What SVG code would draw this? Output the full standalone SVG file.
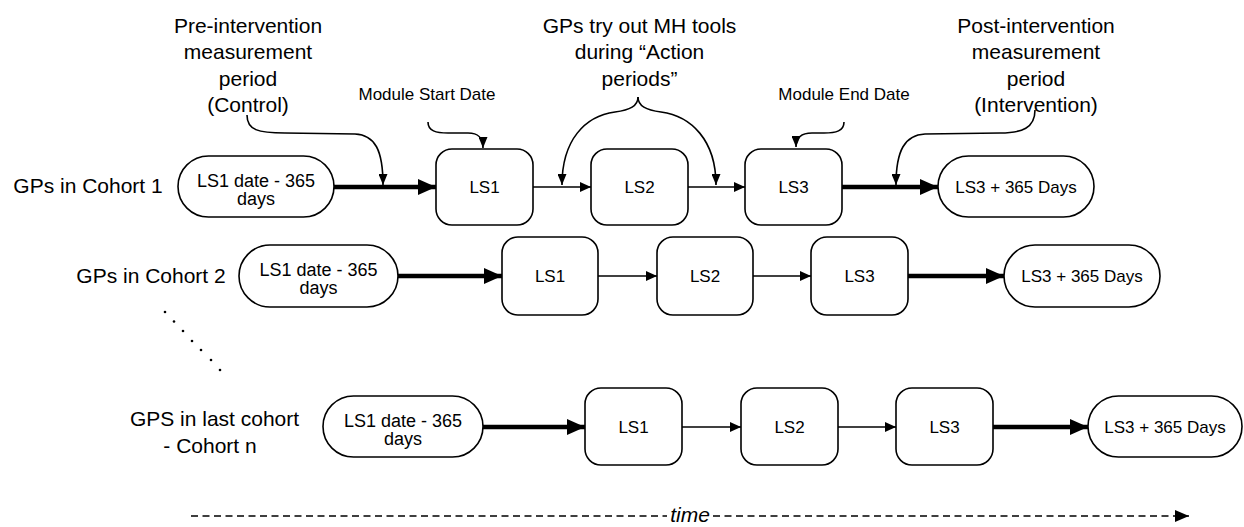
<svg xmlns="http://www.w3.org/2000/svg" width="1244" height="527" viewBox="0 0 1244 527">
  <style>
    text { font-family: "Liberation Sans", Arial, sans-serif; fill: #000; }
    .big { font-size: 21px; text-anchor: middle; }
    .small { font-size: 17px; text-anchor: middle; }
    .lbl { font-size: 18px; text-anchor: middle; }
    .lbl2 { font-size: 17px; text-anchor: middle; }
    .box { fill: #fff; stroke: #000; stroke-width: 1.6; }
    .thick { stroke: #000; stroke-width: 4.5; fill: none; marker-end: url(#bigArrow); }
    .thin { stroke: #000; stroke-width: 1.6; fill: none; marker-end: url(#smallArrow); }
    .curve { stroke: #000; stroke-width: 1.6; fill: none; marker-end: url(#curveArrow); }
    .time { stroke: #000; stroke-width: 1.6; fill: none; stroke-dasharray: 7 4.5; marker-end: url(#timeArrow); }
    .dot { fill: #000; }
  </style>
  <defs>
    <marker id="bigArrow" markerUnits="userSpaceOnUse" viewBox="0 0 18 16" refX="18" refY="8" markerWidth="18" markerHeight="16" orient="auto">
      <path d="M0,0 L18,8 L0,16 z" fill="#000"/>
    </marker>
    <marker id="smallArrow" markerUnits="userSpaceOnUse" viewBox="0 0 11 10" refX="11" refY="5" markerWidth="11" markerHeight="10" orient="auto">
      <path d="M0,0 L11,5 L0,10 z" fill="#000"/>
    </marker>
    <marker id="curveArrow" markerUnits="userSpaceOnUse" viewBox="0 0 11 9" refX="11" refY="4.5" markerWidth="11" markerHeight="9" orient="auto">
      <path d="M0,0 L11,4.5 L0,9 z" fill="#000"/>
    </marker>
    <marker id="timeArrow" markerUnits="userSpaceOnUse" viewBox="0 0 14 12" refX="14" refY="6" markerWidth="14" markerHeight="12" orient="auto">
      <path d="M0,0 L14,6 L0,12 z" fill="#000"/>
    </marker>
  </defs>

  <!-- Annotation labels -->
  <g id="label-pre">
    <text class="big"><tspan x="248" y="32.5">Pre-intervention</tspan><tspan x="248" y="59">measurement</tspan><tspan x="248" y="85.5">period</tspan><tspan x="248" y="112">(Control)</tspan></text>
  </g>
  <g id="label-action">
    <text class="big"><tspan x="639.5" y="32.5">GPs try out MH tools</tspan><tspan x="639.5" y="59">during “Action</tspan><tspan x="639.5" y="85.5">periods”</tspan></text>
  </g>
  <g id="label-post">
    <text class="big"><tspan x="1036" y="32.5">Post-intervention</tspan><tspan x="1036" y="59">measurement</tspan><tspan x="1036" y="85.5">period</tspan><tspan x="1036" y="112">(Intervention)</tspan></text>
  </g>
  <g id="label-start"><text class="small" x="427" y="100">Module Start Date</text></g>
  <g id="label-end"><text class="small" x="844" y="100">Module End Date</text></g>

  <!-- Row labels -->
  <g id="row1-label"><text class="big" x="88" y="193">GPs in Cohort 1</text></g>
  <g id="row2-label"><text class="big" x="151" y="283">GPs in Cohort 2</text></g>
  <g id="row3-label"><text class="big"><tspan x="214.5" y="426">GPS in last cohort</tspan><tspan x="210" y="453">- Cohort n</tspan></text></g>

  <!-- Row 1 nodes -->
  <g id="r1-start"><rect class="box" x="178" y="156" width="156" height="61" rx="30.5"/><text class="lbl"><tspan x="256" y="187">LS1 date - 365</tspan><tspan x="256" y="205">days</tspan></text></g>
  <g id="r1-ls1"><rect class="box" x="436" y="149" width="97" height="76" rx="16"/><text class="lbl2" x="484.5" y="193">LS1</text></g>
  <g id="r1-ls2"><rect class="box" x="591" y="149" width="97" height="76" rx="16"/><text class="lbl2" x="639.5" y="193">LS2</text></g>
  <g id="r1-ls3"><rect class="box" x="745" y="149" width="97" height="76" rx="16"/><text class="lbl2" x="793.5" y="193">LS3</text></g>
  <g id="r1-end"><rect class="box" x="938" y="156" width="156" height="61" rx="30.5"/><text class="lbl2" x="1016" y="193">LS3 + 365 Days</text></g>

  <!-- Row 2 nodes -->
  <g id="r2-start"><rect class="box" x="239" y="245" width="159" height="62" rx="31"/><text class="lbl"><tspan x="318.5" y="276">LS1 date - 365</tspan><tspan x="318.5" y="294">days</tspan></text></g>
  <g id="r2-ls1"><rect class="box" x="502" y="237" width="96" height="78" rx="16"/><text class="lbl2" x="550" y="282">LS1</text></g>
  <g id="r2-ls2"><rect class="box" x="657" y="237" width="96" height="78" rx="16"/><text class="lbl2" x="705" y="282">LS2</text></g>
  <g id="r2-ls3"><rect class="box" x="811" y="237" width="97" height="78" rx="16"/><text class="lbl2" x="859.5" y="282">LS3</text></g>
  <g id="r2-end"><rect class="box" x="1004" y="245" width="156" height="62" rx="31"/><text class="lbl2" x="1082" y="282">LS3 + 365 Days</text></g>

  <!-- Row 3 nodes -->
  <g id="r3-start"><rect class="box" x="323" y="396" width="160" height="61" rx="30.5"/><text class="lbl"><tspan x="403" y="427">LS1 date - 365</tspan><tspan x="403" y="445">days</tspan></text></g>
  <g id="r3-ls1"><rect class="box" x="585" y="388" width="97" height="77" rx="16"/><text class="lbl2" x="633.5" y="433">LS1</text></g>
  <g id="r3-ls2"><rect class="box" x="741" y="388" width="97" height="77" rx="16"/><text class="lbl2" x="789.5" y="433">LS2</text></g>
  <g id="r3-ls3"><rect class="box" x="896" y="388" width="97" height="77" rx="16"/><text class="lbl2" x="944.5" y="433">LS3</text></g>
  <g id="r3-end"><rect class="box" x="1088" y="396" width="154" height="61" rx="30.5"/><text class="lbl2" x="1165" y="433">LS3 + 365 Days</text></g>

  <!-- Dotted continuation -->
  <g id="ellipsis">
    <circle class="dot" cx="165" cy="312" r="1.3"/>
    <circle class="dot" cx="174" cy="321.5" r="1.3"/>
    <circle class="dot" cx="183" cy="331" r="1.3"/>
    <circle class="dot" cx="192" cy="341" r="1.3"/>
    <circle class="dot" cx="201" cy="350" r="1.3"/>
    <circle class="dot" cx="211" cy="360" r="1.3"/>
    <circle class="dot" cx="220" cy="370" r="1.3"/>
  </g>

  <!-- Connectors -->
  <g id="connectors">
    <path class="thick" d="M334,187 H436"/>
    <path class="thin" d="M533,187 H591"/>
    <path class="thin" d="M688,187 H745"/>
    <path class="thick" d="M842,187 H938"/>

    <path class="thick" d="M398,276 H502"/>
    <path class="thin" d="M598,276 H657"/>
    <path class="thin" d="M753,276 H811"/>
    <path class="thick" d="M908,276 H1004"/>

    <path class="thick" d="M483,427 H585"/>
    <path class="thin" d="M682,427 H741"/>
    <path class="thin" d="M838,427 H896"/>
    <path class="thick" d="M993,427 H1088"/>

    <path class="curve" d="M247,115 C247,130 258,133 285,133 L355,134 C375,135 383,150 383,185"/>
    <path class="curve" d="M428,122 C428,131 436,133 448,133 L468,133 C478,133 483,137 483,148"/>
    <path class="curve" d="M638,97 C638,106 630,110 615,112 C585,116 562,140 562,185"/>
    <path class="curve" d="M638,97 C638,106 646,110 661,112 C691,116 716,140 716,185"/>
    <path class="curve" d="M844,122 C844,131 836,133 824,133 L812,133 C802,133 796,137 796,147"/>
    <path class="curve" d="M1035,110 C1035,128 1022,133 1000,133 L925,134 C905,135 896,150 896,185"/>

    <path class="time" d="M191,516 H667 M713,516 H1189"/>
  </g>
  <g id="time-label"><text x="690" y="522" font-size="21" font-style="italic" text-anchor="middle">time</text></g>
</svg>
